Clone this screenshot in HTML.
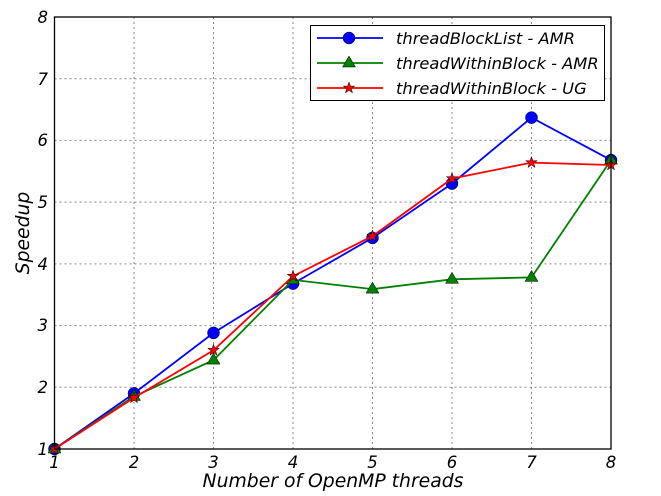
<!DOCTYPE html>
<html><head><style>body{margin:0;background:#fff}svg{display:block}text{font-family:"DejaVu Sans",sans-serif;font-style:italic}</style></head><body>
<svg width="661" height="496" viewBox="0 0 661 496" xmlns="http://www.w3.org/2000/svg">
<defs><path id="st" d="M0,-6L1.4,-1.9L5.7,-1.9L2.2,0.7L3.5,4.9L0,2.3L-3.5,4.9L-2.2,0.7L-5.7,-1.9L-1.4,-1.9Z"/></defs>
<g stroke="#888" stroke-dasharray="2,3" stroke-width="1">
<line x1="134" y1="17" x2="134" y2="449"/><line x1="213.5" y1="17" x2="213.5" y2="449"/><line x1="293" y1="17" x2="293" y2="449"/><line x1="372.5" y1="17" x2="372.5" y2="449"/><line x1="452" y1="17" x2="452" y2="449"/><line x1="531.5" y1="17" x2="531.5" y2="449"/>
<line x1="54.5" y1="78.7" x2="611" y2="78.7"/><line x1="54.5" y1="140.4" x2="611" y2="140.4"/><line x1="54.5" y1="202.1" x2="611" y2="202.1"/><line x1="54.5" y1="263.9" x2="611" y2="263.9"/><line x1="54.5" y1="325.6" x2="611" y2="325.6"/><line x1="54.5" y1="387.3" x2="611" y2="387.3"/>
</g>
<g font-size="16.5" fill="#000" text-anchor="middle">
<text x="54.5" y="468">1</text><text x="134" y="468">2</text><text x="213.5" y="468">3</text><text x="293" y="468">4</text><text x="372.5" y="468">5</text><text x="452" y="468">6</text><text x="531.5" y="468">7</text><text x="611" y="468">8</text>
</g>
<g font-size="16.5" fill="#000" text-anchor="end">
<text x="48" y="455">1</text><text x="48" y="393">2</text><text x="48" y="331">3</text><text x="48" y="270">4</text><text x="48" y="208">5</text><text x="48" y="146">6</text><text x="48" y="85">7</text><text x="48" y="23">8</text>
</g>
<text x="333" y="487" font-size="18.8" text-anchor="middle">Number of OpenMP threads</text>
<text transform="translate(29,233) rotate(-90)" font-size="18.8" text-anchor="middle">Speedup</text>
<polyline fill="none" stroke="#0000ff" stroke-width="1.8" points="54.5,449 134,393.4 213.5,332.9 293,283.6 372.5,237.9 452,183.6 531.5,117.6 611,160.1"/>
<g fill="#0000ff" stroke="#000" stroke-width="0.5">
<circle cx="54.5" cy="449" r="6"/><circle cx="134" cy="393.4" r="6"/><circle cx="213.5" cy="332.9" r="6"/><circle cx="293" cy="283.6" r="6"/><circle cx="372.5" cy="237.9" r="6"/><circle cx="452" cy="183.6" r="6"/><circle cx="531.5" cy="117.6" r="6"/><circle cx="611" cy="160.1" r="6"/>
</g>
<polyline fill="none" stroke="#008000" stroke-width="1.8" points="54.5,449 134,396.5 213.5,360.1 293,279.9 372.5,289.1 452,279.3 531.5,277.4 611,160.1"/>
<g fill="#008000" stroke="#000" stroke-width="0.5">
<path d="M54.5,442l6.5,11h-13z"/><path d="M134,389.5l6.5,11h-13z"/><path d="M213.5,353.1l6.5,11h-13z"/><path d="M293,272.9l6.5,11h-13z"/><path d="M372.5,282.1l6.5,11h-13z"/><path d="M452,272.3l6.5,11h-13z"/><path d="M531.5,270.4l6.5,11h-13z"/><path d="M611,153.1l6.5,11h-13z"/>
</g>
<polyline fill="none" stroke="#ff0000" stroke-width="1.8" points="54.5,449 134,397.8 213.5,350.3 293,276.2 372.5,236.1 452,178.6 531.5,162.6 611,165"/>
<g fill="#ff0000" stroke="#000" stroke-width="0.5">
<use href="#st" x="54.5" y="449"/><use href="#st" x="134" y="397.8"/><use href="#st" x="213.5" y="350.3"/><use href="#st" x="293" y="276.2"/><use href="#st" x="372.5" y="236.1"/><use href="#st" x="452" y="178.6"/><use href="#st" x="531.5" y="162.6"/><use href="#st" x="611" y="165"/>
</g>
<rect x="54.5" y="17" width="556.5" height="432" fill="none" stroke="#000" stroke-width="1.3"/>
<rect x="310.5" y="25.5" width="294" height="75" fill="#fff" stroke="#000" stroke-width="1"/>
<line x1="317" y1="38" x2="383" y2="38" stroke="#0000ff" stroke-width="1.8"/><circle cx="349" cy="38" r="6" fill="#0000ff" stroke="#000" stroke-width="0.5"/>
<line x1="317" y1="63" x2="383" y2="63" stroke="#008000" stroke-width="1.8"/><path d="M349,56l6.5,11h-13z" fill="#008000" stroke="#000" stroke-width="0.5"/>
<line x1="317" y1="88" x2="383" y2="88" stroke="#ff0000" stroke-width="1.8"/><use href="#st" x="349" y="88" fill="#ff0000" stroke="#000" stroke-width="0.5"/>
<g font-size="16.3" fill="#000">
<text x="396" y="44">threadBlockList - AMR</text>
<text x="396" y="69">threadWithinBlock - AMR</text>
<text x="396" y="94">threadWithinBlock - UG</text>
</g>
</svg>
</body></html>
